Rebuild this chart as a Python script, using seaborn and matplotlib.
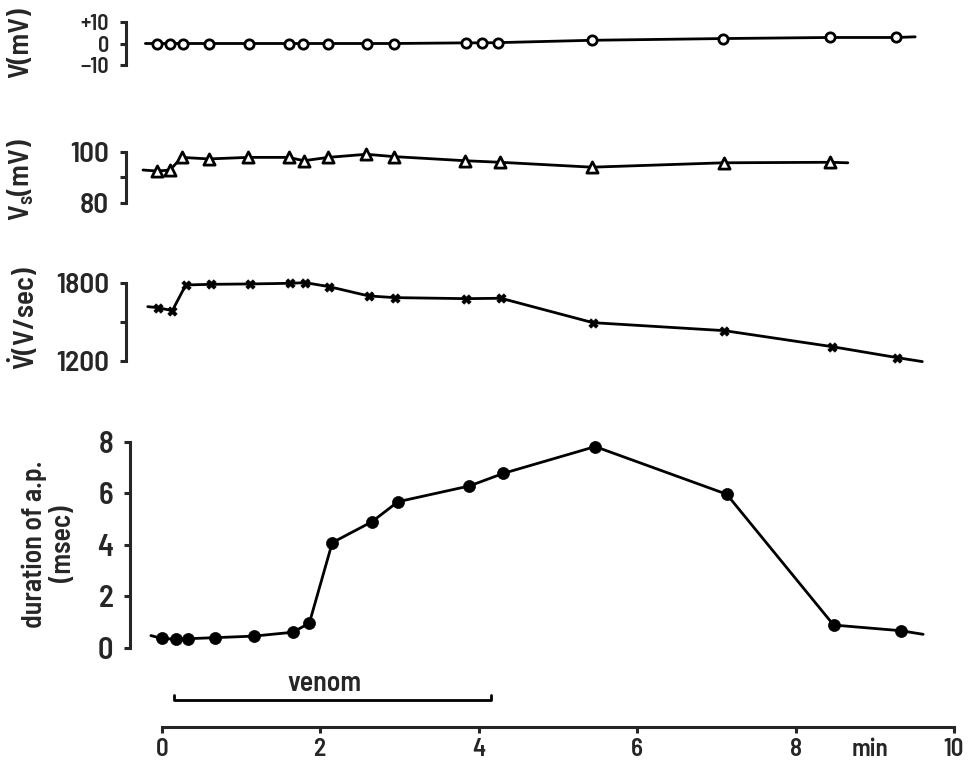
import numpy as np
import matplotlib
matplotlib.use("Agg")
import matplotlib.pyplot as plt
import seaborn as sns

# --- data (time in min) ---
# resting potential V (mV), open circles
t_v = [-0.06, 0.10, 0.27, 0.59, 1.10, 1.60, 1.78, 2.10, 2.59, 2.93,
       3.84, 4.04, 4.24, 5.43, 7.08, 8.43, 9.27]
v_rest = [0, 0, 0, 0, 0, 0, 0, 0, 0, 0, 0.3, 0.3, 0.4, 1.5, 2.3, 2.8, 2.8]
v_rest_ends = [(-0.21, 0.0), (9.51, 3.1)]

# spike amplitude Vs (mV), open triangles
t_vs = [-0.06, 0.10, 0.25, 0.59, 1.09, 1.60, 1.79, 2.10, 2.58, 2.93,
        3.83, 4.27, 5.43, 7.09, 8.43]
v_spike = [92.5, 92.9, 97.8, 97.2, 97.8, 97.8, 96.5, 97.8, 99.0, 98.1,
           96.5, 95.9, 94.0, 95.7, 95.9]
v_spike_ends = [(-0.24, 92.9), (8.66, 95.7)]

# max rate of rise dV/dt (V/sec), crosses
t_dv = [-0.05, 0.13, 0.30, 0.62, 1.11, 1.62, 1.81, 2.11, 2.61, 2.94,
        3.84, 4.28, 5.44, 7.10, 8.46, 9.28]
dvdt = [1611, 1588, 1787, 1792, 1795, 1800, 1805, 1774, 1702, 1689,
        1681, 1684, 1495, 1433, 1309, 1224]
dvdt_ends = [(-0.18, 1619), (9.60, 1193)]

# duration of action potential (msec), filled dots
t_dur = [0.0, 0.18, 0.33, 0.67, 1.16, 1.65, 1.86, 2.15, 2.65, 2.98,
         3.88, 4.31, 5.47, 7.13, 8.48, 9.33]
duration = [0.36, 0.33, 0.35, 0.39, 0.45, 0.60, 0.95, 4.08, 4.89, 5.67,
            6.28, 6.77, 7.81, 5.96, 0.88, 0.66]
duration_ends = [(-0.14, 0.47), (9.61, 0.52)]

venom_start, venom_end = 0.15, 4.15
x_ticks = [0, 2, 4, 6, 8, 10]

# --- style ---
sns.set_style("ticks")
FONT = 'Barlow Semi Condensed'
plt.rcParams['font.family'] = [FONT, 'DejaVu Sans']
plt.rcParams['font.weight'] = 'semibold'
plt.rcParams['mathtext.fontset'] = 'custom'
plt.rcParams['mathtext.rm'] = FONT + ':semibold'
plt.rcParams['mathtext.it'] = FONT + ':semibold'
plt.rcParams['mathtext.bf'] = FONT + ':semibold'

W, H = 978, 764
fig = plt.figure(figsize=(W / 100, H / 100), dpi=100)

x0_px, px_per_min = 162, 79.2
left_px, right_px = 126, 960
xlim = ((left_px - x0_px) / px_per_min, (right_px - x0_px) / px_per_min)


def add_panel(top_px, bot_px):
    return fig.add_axes([left_px / W, 1 - bot_px / H,
                         (right_px - left_px) / W, (bot_px - top_px) / H])


def style_panel(ax, ylim, ticks, labels, fs=21, spine_px=None):
    if spine_px is not None:
        ax.spines['left'].set_position(('data', (spine_px - x0_px) / px_per_min))
    ax.set_xlim(*xlim)
    ax.set_ylim(*ylim)
    for s in ['top', 'right', 'bottom']:
        ax.spines[s].set_visible(False)
    ax.spines['left'].set_linewidth(2.2)
    ax.set_xticks([])
    ax.set_yticks(ticks)
    ax.set_yticklabels(labels, fontsize=fs)
    ax.tick_params(axis='y', direction='out', length=4, width=2.2, pad=8)
    ax.patch.set_alpha(0)
    ax.set_xlabel('')
    ax.set_ylabel('')


def draw(ax, t, y, ends, marker, **mk):
    lx = [ends[0][0]] + list(t) + [ends[1][0]]
    ly = [ends[0][1]] + list(y) + [ends[1][1]]
    sns.lineplot(x=lx, y=ly, ax=ax, color='k', lw=2.0, sort=False,
                 estimator=None, clip_on=False)
    sns.scatterplot(x=t, y=y, ax=ax, marker=marker, zorder=3,
                    clip_on=False, legend=False, **mk)


ax1 = add_panel(22, 65)
draw(ax1, t_v, v_rest, v_rest_ends, 'o', s=45, color='white',
     edgecolor='k', linewidth=2)
style_panel(ax1, (-10, 10), [-10, 0, 10], ['\u221210', '0', '+10'], fs=16)

ax2 = add_panel(151.7, 203.3)
draw(ax2, t_vs, v_spike, v_spike_ends, '^', s=65, color='white',
     edgecolor='k', linewidth=2)
style_panel(ax2, (80, 100), [80, 90, 100], ['80', '', '100'])

ax3 = add_panel(283.3, 360.7)
draw(ax3, t_dv, dvdt, dvdt_ends, 'X', s=45, color='k',
     edgecolor='k', linewidth=0.5)
style_panel(ax3, (1200, 1800), [1200, 1500, 1800], ['1200', '', '1800'])

ax4 = add_panel(441.7, 647.7)
draw(ax4, t_dur, duration, duration_ends, 'o', s=75, color='k',
     edgecolor='k', linewidth=0.5)
style_panel(ax4, (0, 8), [0, 2, 4, 6, 8], ['0', '2', '4', '6', '8'],
            fs=22, spine_px=130)

# x axis + venom bar
axx = add_panel(670, 727)
axx.set_xlim(*xlim)
axx.set_ylim(0, 1)
for s in ['top', 'right', 'left']:
    axx.spines[s].set_visible(False)
axx.spines['bottom'].set_linewidth(2.2)
axx.spines['bottom'].set_bounds(0, 10)
axx.set_yticks([])
axx.set_xticks(x_ticks)
axx.set_xticklabels([str(v) for v in x_ticks], fontsize=18)
axx.tick_params(axis='x', direction='out', length=4, width=2.2, pad=4)
axx.patch.set_alpha(0)
axx.plot([venom_start, venom_start, venom_end, venom_end],
         [0.57, 0.47, 0.47, 0.57], color='k', lw=2.0)
axx.text((venom_start + venom_end) / 2 - 0.1, 0.77, 'venom', ha='center',
         va='center', fontsize=20)

# labels
def ftext(x, y, s, **kw):
    fig.text(x / W, 1 - y / H, s, ha='center', va='center', rotation=90, **kw)

ftext(21, 43, 'V(mV)', fontsize=21)
ftext(21, 180, 'V$\\mathregular{_s}$(mV)', fontsize=21)
ftext(23, 318, '$\\dot{V}$(V/sec)', fontsize=21)
ftext(49, 544, 'duration of a.p.\n(msec)', fontsize=20, linespacing=1.2)
# 'min' sits on the tick-label row, left of the 10 tick
axx.annotate('min', xy=(8.94, 0), xycoords=('data', 'axes fraction'),
             xytext=(0, -8), textcoords='offset points', ha='center',
             va='top', fontsize=18)

fig.savefig('out.png', dpi=100)
